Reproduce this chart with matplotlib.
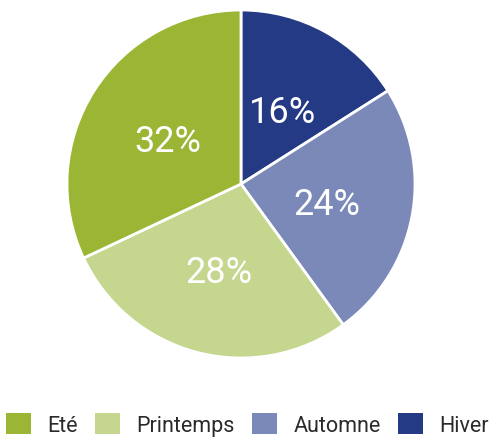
import matplotlib
matplotlib.use("Agg")
import matplotlib.pyplot as plt
from matplotlib.patches import Patch

labels = ["Hiver", "Automne", "Printemps", "Eté"]
values = [16, 24, 28, 32]
colors = ["#243a85", "#7b89b8", "#c5d68f", "#9bb535"]
legend_order = ["Eté", "Printemps", "Automne", "Hiver"]

fig = plt.figure(figsize=(4.91, 4.39), dpi=100)
ax = fig.add_axes([67/491, (439-359)/439, 348/491, 348/439])
wedges, texts = ax.pie(values, colors=colors, startangle=90, counterclock=False,
                       labels=[f"{v}%" for v in values], labeldistance=0.5,
                       wedgeprops=dict(edgecolor="white", linewidth=2),
                       textprops=dict(color="white", fontsize=26, fontfamily="Roboto", fontweight="normal",
                                      ha="center", va="center_baseline"))
ax.set_aspect("equal")
ax.set_xlim(-1, 1)
ax.set_ylim(-1, 1)

cmap = dict(zip(labels, colors))
handles = [Patch(facecolor=cmap[l], edgecolor="none") for l in legend_order]
fig.legend(handles, legend_order, loc="upper center", bbox_to_anchor=(247.5/491, 1 - 414/439),
           ncol=4, frameon=False, handlelength=1.15, handleheight=1.15,
           handletextpad=0.75, columnspacing=0.82, borderpad=0, borderaxespad=0,
           prop=dict(family="Roboto", size=15.5), labelcolor="#2a2a2a")

fig.savefig("out.png", dpi=100)
